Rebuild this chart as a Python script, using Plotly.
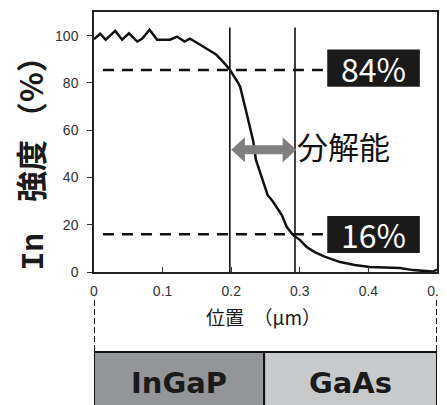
import plotly.graph_objects as go

# ---- data ----
position_um = [0.000, 0.009, 0.017, 0.031, 0.041, 0.051, 0.063, 0.070, 0.081, 0.092,
               0.111, 0.121, 0.132, 0.140, 0.150, 0.166, 0.178, 0.188, 0.198, 0.209,
               0.213, 0.223, 0.232, 0.236, 0.246, 0.253, 0.261, 0.274, 0.281, 0.290,
               0.300, 0.310, 0.321, 0.337, 0.359, 0.380, 0.402, 0.427, 0.446, 0.465,
               0.482, 0.494, 0.500]
intensity_pct = [98.5, 100.8, 98.3, 102.0, 98.3, 101.0, 97.5, 98.7, 102.5, 98.3,
                 98.3, 99.6, 97.5, 98.7, 97.0, 94.0, 92.0, 89.0, 85.6, 80.5,
                 78.4, 66.5, 55.5, 47.5, 39.0, 32.6, 29.7, 24.0, 19.0, 15.7,
                 13.6, 10.6, 8.5, 6.4, 4.2, 3.0, 2.1, 1.7, 1.7, 0.8,
                 0.5, 0.2, 1.0]
x_tick_vals = [0, 0.1, 0.2, 0.3, 0.4, 0.5]
x_tick_text = ["0", "0.1", "0.2", "0.3", "0.4", "0.5"]
y_tick_vals = [0, 20, 40, 60, 80, 100]
level_hi = 85.5      # 84% level line
level_lo = 16.0      # 16% level line
x_res_left = 0.198   # resolution markers
x_res_right = 0.293
interface_x = 0.248  # InGaP / GaAs boundary
labels = {"hi": "84%", "lo": "16%", "res": "分解能", "layer1": "InGaP", "layer2": "GaAs"}

fig = go.Figure()
fig.add_trace(go.Scatter(x=position_um, y=intensity_pct, mode="lines",
                         line=dict(color="#111111", width=2.5), showlegend=False,
                         hoverinfo="skip"))

shapes = []
# vertical resolution lines
for xv in (x_res_left, x_res_right):
    shapes.append(dict(type="line", xref="x", yref="y", x0=xv, x1=xv, y0=0, y1=103.4,
                       line=dict(color="#111111", width=1.6)))
# dashed level lines
for yv in (level_hi, level_lo):
    shapes.append(dict(type="line", xref="x", yref="y", x0=0.013, x1=0.335, y0=yv, y1=yv,
                       line=dict(color="#111111", width=2.5, dash="11px,8px")))
# black label boxes
shapes.append(dict(type="rect", xref="x", yref="y", x0=0.340, x1=0.475, y0=78.4, y1=94.1,
                   fillcolor="#1a1a1a", line=dict(width=0)))
shapes.append(dict(type="rect", xref="x", yref="y", x0=0.340, x1=0.475, y0=8.0, y1=23.7,
                   fillcolor="#1a1a1a", line=dict(width=0)))
# double arrow (grey)
yc = 51.7
sh = 1.9   # half shaft height (data units)
hh = 5.3   # half head height
hl = 0.020 # head length
xa, xb = x_res_left + 0.002, x_res_right + 0.002
path = (f"M {xa},{yc} L {xa+hl},{yc+hh} L {xa+hl},{yc+sh} L {xb-hl},{yc+sh} "
        f"L {xb-hl},{yc+hh} L {xb},{yc} L {xb-hl},{yc-hh} L {xb-hl},{yc-sh} "
        f"L {xa+hl},{yc-sh} L {xa+hl},{yc-hh} Z")
shapes.append(dict(type="path", xref="x", yref="y", path=path,
                   fillcolor="#7f7f7f", line=dict(width=0)))
# dashed drop lines under the axis
for xv in (0, 0.5):
    shapes.append(dict(type="line", xref="x", yref="paper", x0=xv, x1=xv,
                       y0=-0.1077, y1=-0.3077,
                       line=dict(color="#111111", width=2, dash="6px,3px")))
# layer boxes
shapes.append(dict(type="rect", xref="x", yref="paper", x0=0, x1=interface_x,
                   y0=-0.3077, y1=-0.55, fillcolor="#939598",
                   line=dict(color="#111111", width=2)))
shapes.append(dict(type="rect", xref="x", yref="paper", x0=interface_x, x1=0.5,
                   y0=-0.3077, y1=-0.55, fillcolor="#c8c9cb",
                   line=dict(color="#111111", width=2)))

C = dict(xanchor="center", yanchor="middle", showarrow=False)
annotations = [
    dict(xref="x", yref="y", x=0.4075, y=86.2, text=labels["hi"], **C,
         font=dict(family="Noto Sans CJK JP", size=32, color="white")),
    dict(xref="x", yref="y", x=0.4075, y=15.9, text=labels["lo"], **C,
         font=dict(family="Noto Sans CJK JP", size=32, color="white")),
    dict(xref="x", yref="y", x=0.3644, y=53.4, text=labels["res"], **C,
         font=dict(family="Noto Sans CJK JP", size=31, color="#111111")),
    dict(xref="x", yref="paper", x=interface_x / 2, y=-0.427, text="<b>" + labels["layer1"] + "</b>",
         **C, font=dict(family="DejaVu Sans", size=29, color="#1a1a1a")),
    dict(xref="x", yref="paper", x=(interface_x + 0.5) / 2, y=-0.427, text="<b>" + labels["layer2"] + "</b>",
         **C, font=dict(family="DejaVu Sans", size=29, color="#1a1a1a")),
    dict(xref="paper", yref="paper", x=0.4956, y=-0.173, text="位置　（μm）", **C,
         font=dict(family="Noto Sans CJK JP", size=19, color="#1a1a1a")),
    dict(xref="paper", yref="paper", x=-0.1895, y=0.445, textangle=-90, **C,
         text="<b><span style='font-family:Liberation Mono'>In</span>　強度 （%）</b>",
         font=dict(family="Noto Sans CJK JP", size=31, color="#1a1a1a")),
]

# the page body adds an 8px offset; the figure is sized so the plot area lands
# at page pixels x 94..437, y 12..272
fig.update_layout(
    width=447, height=397,
    margin=dict(l=86, r=18, t=4, b=133),
    paper_bgcolor="white", plot_bgcolor="white",
    shapes=shapes, annotations=annotations,
    showlegend=False,
    xaxis=dict(range=[0, 0.5], tickvals=x_tick_vals, ticktext=x_tick_text,
               ticks="inside", ticklen=5, tickcolor="#333", showgrid=False,
               zeroline=False, showline=True, linecolor="#222", linewidth=1.5,
               mirror=True, ticklabelstandoff=5, automargin=False,
               tickfont=dict(family="Liberation Sans", size=14, color="#333")),
    yaxis=dict(range=[0, 110], tickvals=y_tick_vals, ticks="outside", ticklen=5,
               tickcolor="#333", showgrid=False, zeroline=False, showline=True,
               linecolor="#222", linewidth=1.5, mirror=True, ticklabelstandoff=6,
               automargin=False,
               tickfont=dict(family="Liberation Sans", size=14, color="#333")),
)

fig.write_html("out.html")
